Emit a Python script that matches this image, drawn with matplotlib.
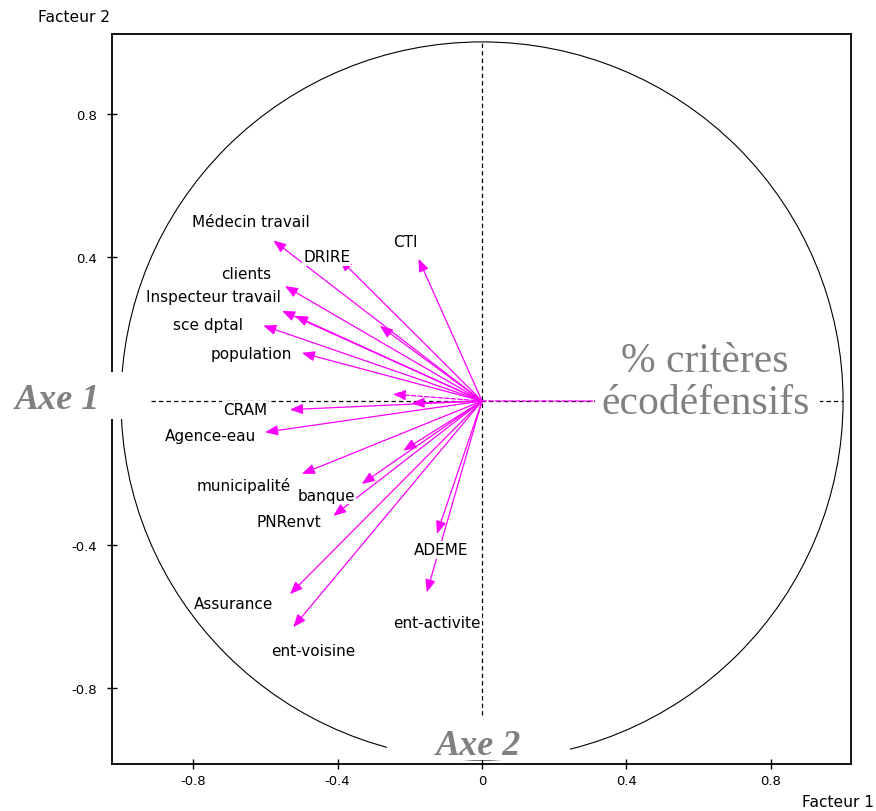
import matplotlib
matplotlib.use("Agg")
import matplotlib.pyplot as plt
from matplotlib.patches import Circle, Rectangle

plt.rcParams["axes.unicode_minus"] = False

# variables (correlations with factors 1 and 2)
variables = [
    "Médecin travail", "DRIRE", "CTI", "clients", "Inspecteur travail", "",
    "sce dptal", "population", "", "", "", "CRAM", "Agence-eau", "",
    "municipalité", "banque", "PNRenvt", "Assurance", "ent-voisine",
    "ADEME", "ent-activite", "",
]
facteur1 = [
    -0.578, -0.395, -0.176, -0.546, -0.554, -0.518,
    -0.606, -0.499, -0.283, -0.247, -0.195, -0.532, -0.601, -0.218,
    -0.499, -0.333, -0.412, -0.532, -0.523,
    -0.125, -0.153, 0.36,
]
facteur2 = [
    0.447, 0.396, 0.396, 0.320, 0.251, 0.237,
    0.210, 0.134, 0.209, 0.019, -0.006, -0.024, -0.087, -0.138,
    -0.203, -0.231, -0.320, -0.538, -0.630,
    -0.370, -0.533, 0.0,
]
# supplementary variables are drawn dashed
supplementaire = [
    False, False, False, False, False, False,
    False, False, False, True, False, False, False, False,
    False, False, False, False, False,
    False, False, True,
]

# label placement (data coordinates)
label_pos = {
    "Médecin travail": (-0.64, 0.499),
    "DRIRE": (-0.43, 0.401),
    "CTI": (-0.213, 0.443),
    "clients": (-0.654, 0.354),
    "Inspecteur travail": (-0.745, 0.290),
    "sce dptal": (-0.759, 0.212),
    "population": (-0.640, 0.131),
    "CRAM": (-0.657, -0.025),
    "Agence-eau": (-0.753, -0.097),
    "municipalité": (-0.659, -0.234),
    "banque": (-0.432, -0.262),
    "PNRenvt": (-0.535, -0.337),
    "ADEME": (-0.114, -0.415),
    "Assurance": (-0.687, -0.563),
    "ent-activite": (-0.125, -0.616),
    "ent-voisine": (-0.468, -0.696),
}

xticks = [-0.8, -0.4, 0, 0.4, 0.8]
xtick_labels = ["-0.8", "-0.4", "0", "0.4", "0.8"]
yticks = [-0.8, -0.4, 0.4, 0.8]
ytick_labels = ["-0.8", "-0.4", "0.4", "0.8"]

MAGENTA = "#ff00ff"
GREY = "#808080"

fig = plt.figure(figsize=(8.76, 8.12), dpi=100)
ax = fig.add_axes([112 / 876, 47 / 812, 739 / 876, 730 / 812])
ax.set_xlim(-1.025, 1.022)
ax.set_ylim(-1.011, 1.022)

for side in ax.spines.values():
    side.set_linewidth(1.3)
ax.set_xticks(xticks)
ax.set_xticklabels(xtick_labels)
ax.set_yticks(yticks)
ax.set_yticklabels(ytick_labels)
ax.tick_params(direction="inout", length=7, width=1, labelsize=9.5)
ax.tick_params(axis="x", pad=4)
ax.tick_params(axis="y", pad=7)

# unit circle and axes
ax.add_patch(Circle((0, 0), 1, fill=False, color="black", lw=0.8, zorder=1))
ax.plot([-1, 1], [0, 0], color="black", lw=0.9, dashes=(3.5, 2.5), zorder=1)
ax.plot([0, 0], [-1, 1], color="black", lw=0.9, dashes=(3.5, 2.5), zorder=1)

for name, x, y, supp in zip(variables, facteur1, facteur2, supplementaire):
    ax.annotate(
        "", xy=(x, y), xytext=(0, 0),
        arrowprops=dict(
            arrowstyle="-|>,head_length=0.55,head_width=0.22",
            color=MAGENTA, lw=0.9, shrinkA=0, shrinkB=0,
            mutation_scale=14, linestyle="--" if supp else "-",
        ),
        zorder=2,
    )
    if name:
        lx, ly = label_pos[name]
        ax.text(lx, ly, name, ha="center", va="center", fontsize=11,
                zorder=3,
                bbox=dict(facecolor="white", edgecolor="none", pad=0.8))

# white overlays with the axis titles
boxes = [
    (-1.335, -0.050, 0.415, 0.131),
    (-0.263, -1.000, 0.507, 0.120),
    (0.313, -0.084, 0.623, 0.271),
]
for bx, by, bw, bh in boxes:
    ax.add_patch(Rectangle((bx, by), bw, bh, facecolor="white",
                           edgecolor="none", clip_on=False, zorder=5))

ax.text(-1.175, 0.003, "Axe 1", ha="center", va="center", fontsize=26,
        family="Liberation Serif", style="italic", weight="bold",
        color=GREY, clip_on=False, zorder=6)
ax.text(-0.011, -0.96, "Axe 2", ha="center", va="center", fontsize=26,
        family="Liberation Serif", style="italic", weight="bold",
        color=GREY, clip_on=False, zorder=6)
ax.text(0.618, 0.053, "% critères\nécodéfensifs", ha="center", va="center",
        fontsize=30, family="Liberation Serif", color=GREY,
        linespacing=1.1, clip_on=False, zorder=6)

fig.text(38 / 876, 1 - 18 / 812, "Facteur 2", ha="left", va="center",
         fontsize=11.2)
fig.text(874 / 876, 1 - 803 / 812, "Facteur 1", ha="right", va="center",
         fontsize=11.2)

fig.savefig("out.png", dpi=100)
